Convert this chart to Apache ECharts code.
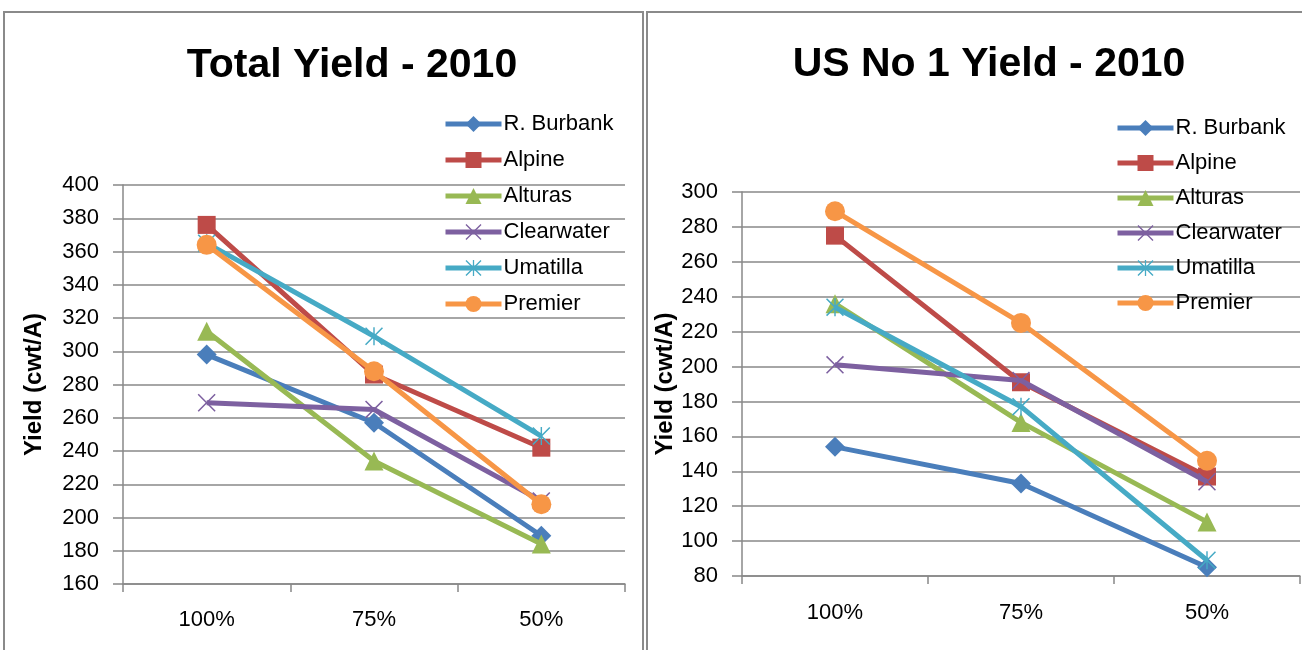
<!DOCTYPE html>
<html><head><meta charset="utf-8">
<script src="https://cdn.jsdelivr.net/npm/echarts@6/dist/echarts.min.js"></script>
<style>html,body{margin:0;padding:0;background:#fff}#c{width:1302px;height:650px}</style>
</head><body><div id="c"></div>
<script>
const categories = ['100%', '75%', '50%'];
const varieties = ['R. Burbank', 'Alpine', 'Alturas', 'Clearwater', 'Umatilla', 'Premier'];
// Total Yield - 2010 (cwt/A)
const totalBurbank = [298, 257, 189];
const totalAlpine = [376, 286, 242];
const totalAlturas = [312, 234, 184];
const totalClearwater = [269, 265, 210];
const totalUmatilla = [365, 309, 249];
const totalPremier = [364, 288, 208];
// US No 1 Yield - 2010 (cwt/A)
const us1Burbank = [154, 133, 85];
const us1Alpine = [275, 191, 137];
const us1Alturas = [236, 168, 111];
const us1Clearwater = [201, 192, 134];
const us1Umatilla = [234, 177, 89];
const us1Premier = [289, 225, 146];
const totalTicks = {min: 160, max: 400, interval: 20};
const us1Ticks = {min: 80, max: 300, interval: 20};

const totalData = [totalBurbank, totalAlpine, totalAlturas, totalClearwater, totalUmatilla, totalPremier];
const us1Data = [us1Burbank, us1Alpine, us1Alturas, us1Clearwater, us1Umatilla, us1Premier];

const colors = ['#4A7EBB', '#BE4B48', '#98B954', '#7D60A0', '#46AAC5', '#F79646'];
const xPath = 'path://M0,1.2L1.2,0L10,8.8L18.8,0L20,1.2L11.2,10L20,18.8L18.8,20L10,11.2L1.2,20L0,18.8L8.8,10Z';
const starPath = 'path://M0,1.2L1.2,0L10,8.8L18.8,0L20,1.2L11.2,10L20,18.8L18.8,20L10,11.2L1.2,20L0,18.8L8.8,10Z M9.2,0L10.8,0L10.8,20L9.2,20Z';
const symbols = ['diamond', 'rect', 'triangle', xPath, starPath, 'circle'];
const sizes = [20, 18, 19, 18, 18, 20];

const FONT = 'Liberation Sans';
const gridColor = '#888888';

function makeSeries(data, idx) {
  return data.map((d, i) => ({
    name: varieties[i], type: 'line', xAxisIndex: idx, yAxisIndex: idx,
    data: d, symbol: symbols[i], symbolSize: sizes[i], showSymbol: true,
    lineStyle: {color: colors[i], width: 5},
    itemStyle: {color: colors[i]},
    emphasis: {disabled: true}, animation: false, z: 2 + i
  }));
}

function xAx(idx, margin) {
  return {
    type: 'category', gridIndex: idx, data: categories, boundaryGap: true,
    axisLine: {lineStyle: {color: gridColor, width: 1.5}},
    axisTick: {show: true, length: 8, lineStyle: {color: gridColor, width: 1.5}},
    axisLabel: {color: '#000', fontFamily: FONT, fontSize: 22, margin: margin}
  };
}
function yAx(idx, t, gap) {
  return {
    type: 'value', gridIndex: idx, min: t.min, max: t.max, interval: t.interval,
    name: 'Yield (cwt/A)', nameLocation: 'middle', nameGap: gap,
    nameTextStyle: {color: '#000', fontFamily: FONT, fontSize: 24, fontWeight: 'bold'},
    axisLine: {show: true, lineStyle: {color: gridColor, width: 1.5}},
    axisTick: {show: true, length: 10, lineStyle: {color: gridColor, width: 1.5}},
    splitLine: {show: true, lineStyle: {color: gridColor, width: 1.5}},
    axisLabel: {color: '#000', fontFamily: FONT, fontSize: 22, margin: 24}
  };
}

function legendAt(left, top, gap) {
  return {data: varieties, orient: 'vertical', left: left, top: top, padding: 0,
    itemWidth: 56, itemHeight: 20, itemGap: gap, selectedMode: false,
    lineStyle: {width: 5},
    textStyle: {fontFamily: FONT, fontSize: 22, color: '#000', padding: [0, 0, 0, -3]}};
}

const chart = echarts.init(document.getElementById('c'));
chart.setOption({
  animation: false,
  backgroundColor: '#fff',
  title: [
    {text: 'Total Yield - 2010', left: 347, top: 40, textAlign: 'center',
     textStyle: {fontFamily: FONT, fontSize: 41, fontWeight: 'bold', color: '#000'}},
    {text: 'US No 1 Yield - 2010', left: 984, top: 39, textAlign: 'center',
     textStyle: {fontFamily: FONT, fontSize: 41, fontWeight: 'bold', color: '#000'}}
  ],
  legend: [legendAt(443, 113, 14), legendAt(1115, 117, 13)],
  grid: [
    {left: 123, top: 185, width: 502, height: 399},
    {left: 742, top: 192, width: 558, height: 384}
  ],
  xAxis: [xAx(0, 25), xAx(1, 26)],
  yAxis: [yAx(0, totalTicks, 77), yAx(1, us1Ticks, 62)],
  graphic: [
    {type: 'rect', shape: {x: 4, y: 12, width: 639, height: 660}, style: {fill: 'none', stroke: '#8a8a8a', lineWidth: 2}, silent: true},
    {type: 'rect', shape: {x: 647, y: 12, width: 680, height: 660}, style: {fill: 'none', stroke: '#8a8a8a', lineWidth: 2}, silent: true}
  ],
  series: makeSeries(totalData, 0).concat(makeSeries(us1Data, 1))
});
</script></body></html>
